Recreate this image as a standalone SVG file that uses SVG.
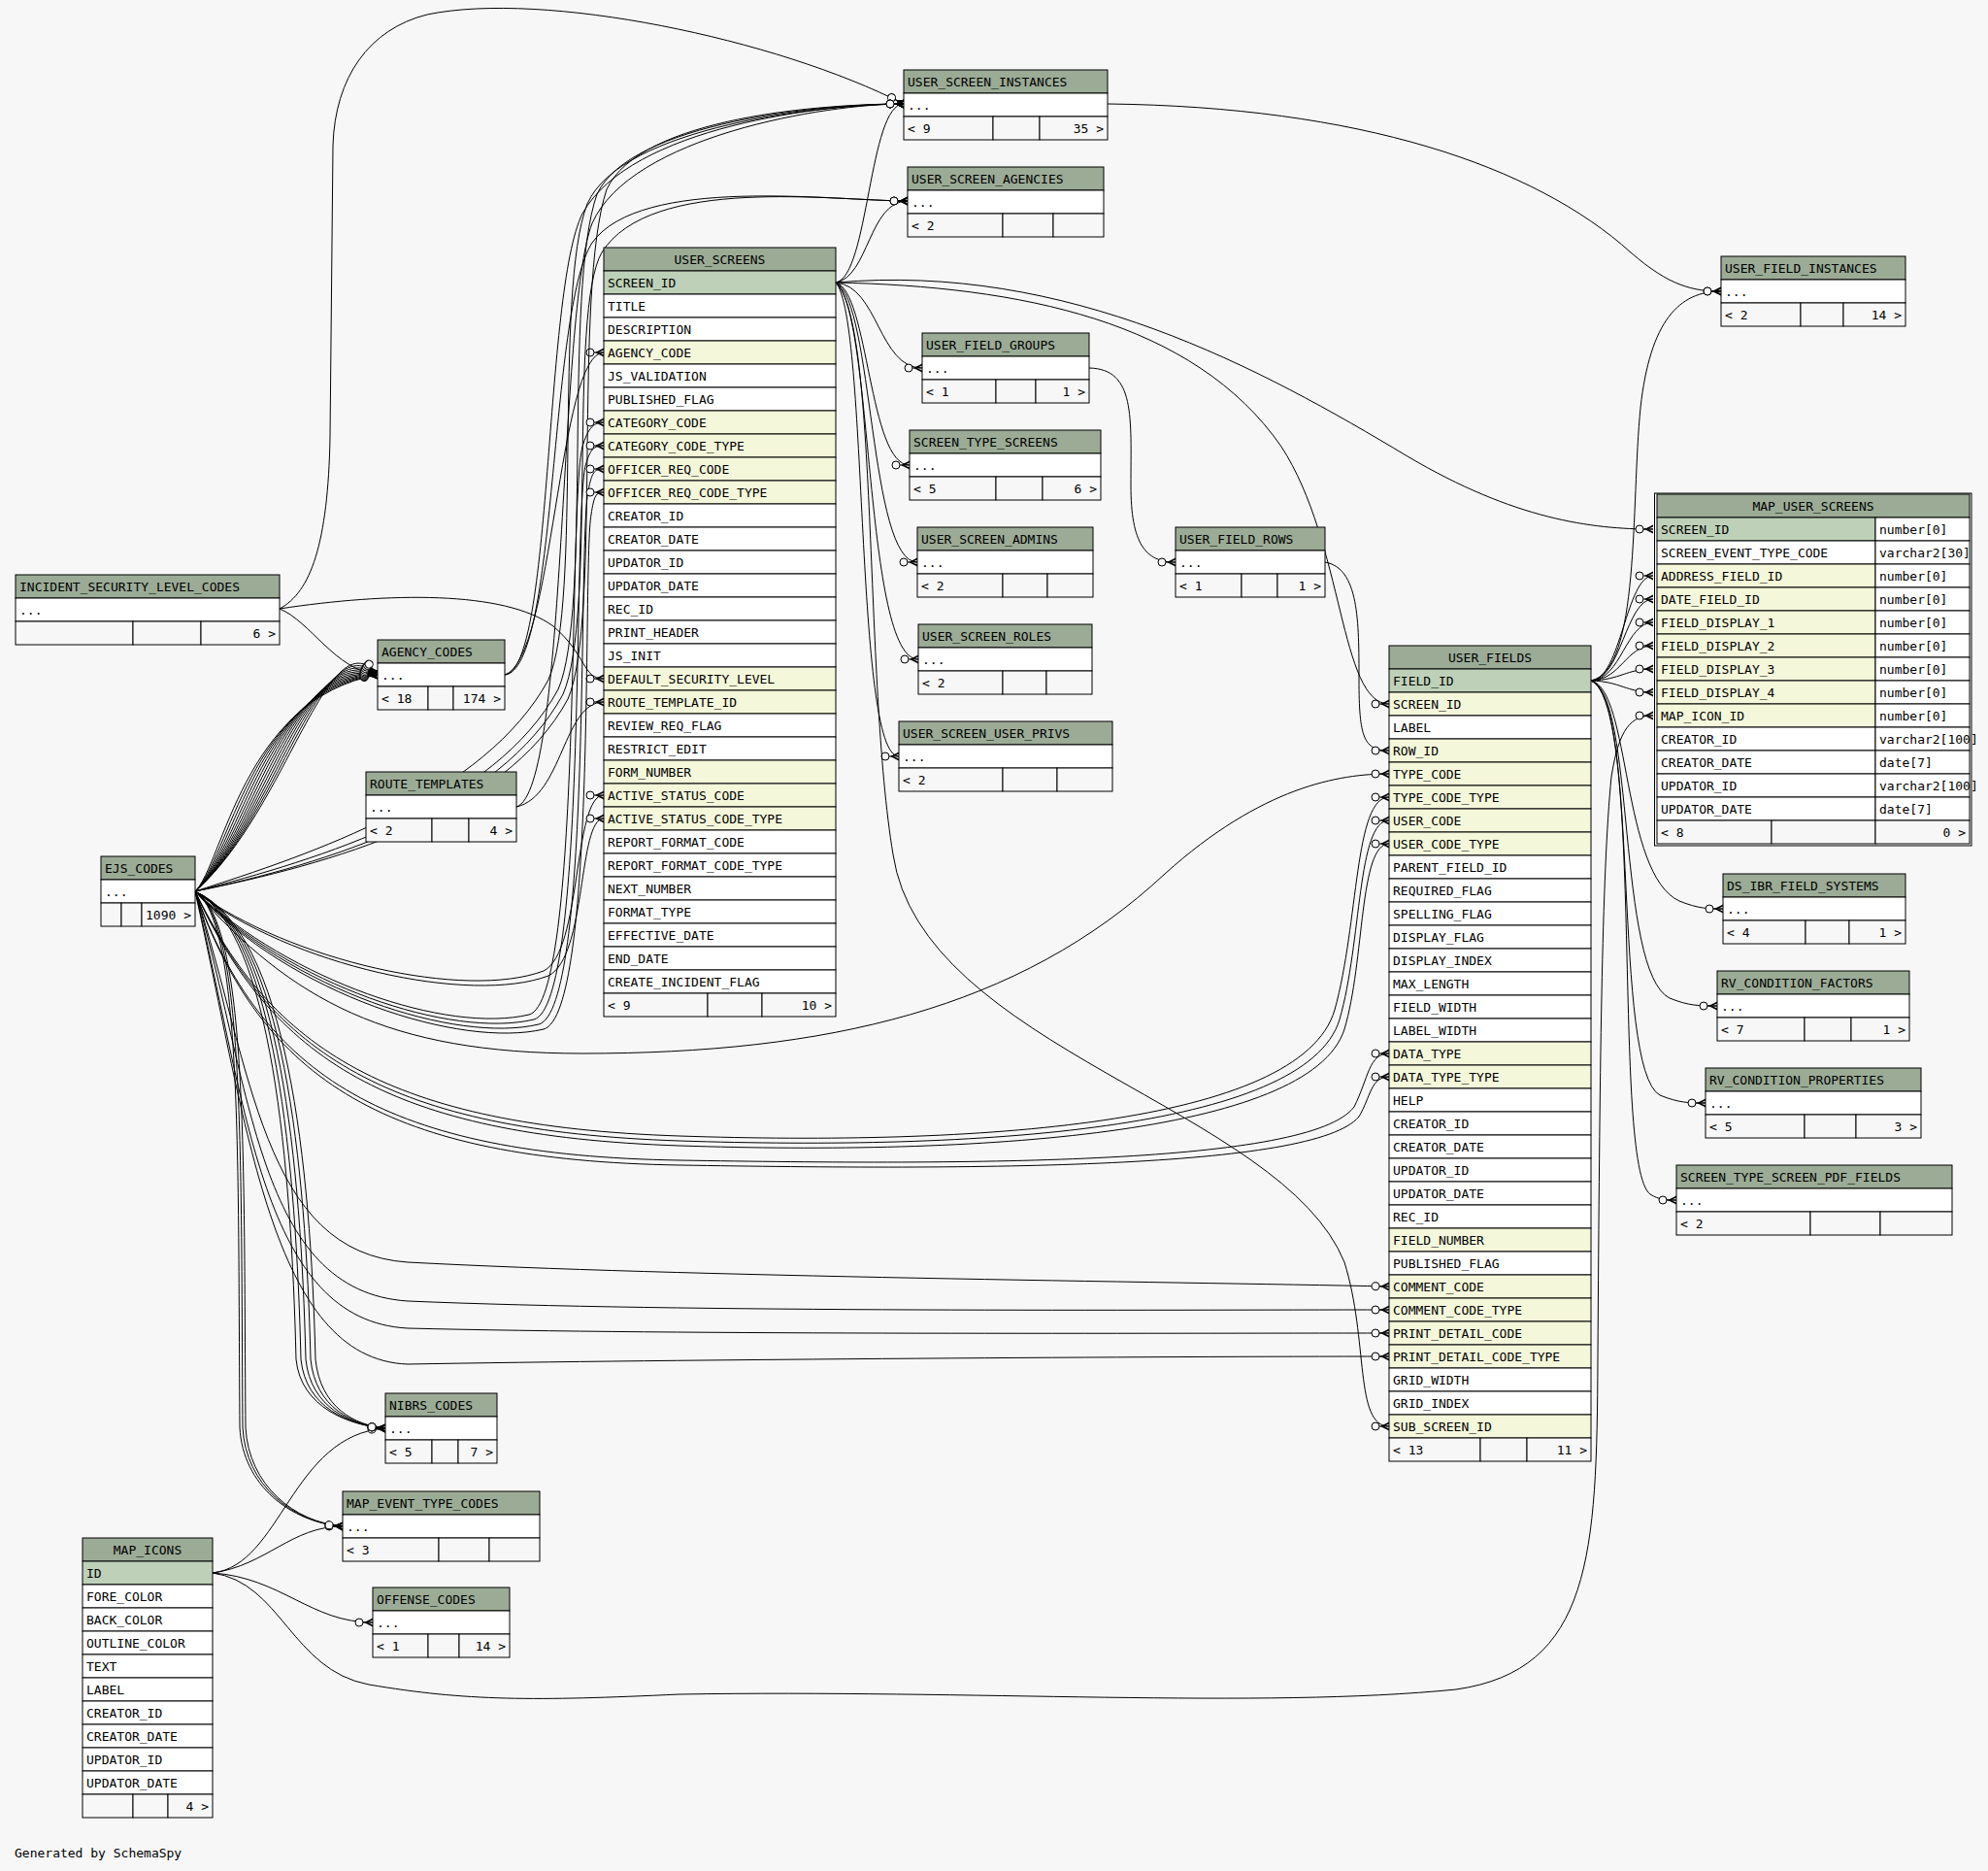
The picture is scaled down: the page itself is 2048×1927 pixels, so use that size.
<svg xmlns="http://www.w3.org/2000/svg" width="2048" height="1927" viewBox="0 0 2048 1927">
<style>
.n rect{stroke:#000;stroke-width:1}
.hd{fill:#9bab96}.pk{fill:#bed1b8}.fk{fill:#f4f7da}.bd{fill:#ffffff}.ft{fill:#f7f7f7}
text{font-family:"DejaVu Sans Mono","Liberation Mono",monospace;font-size:13px;fill:#000}
.c{text-anchor:middle}.r{text-anchor:end}
.e path{fill:none;stroke:#000;stroke-width:1;marker-end:url(#crow)}
</style>
<defs>
<marker id="crow" markerUnits="userSpaceOnUse" markerWidth="20" markerHeight="12" refX="18" refY="6" orient="auto" viewBox="0 0 20 12" overflow="visible">
<circle cx="4" cy="6" r="4" fill="#f7f7f7" stroke="#000" stroke-width="1"/>
<path d="M8,6 L18,6" stroke="#000" stroke-width="1"/>
<polygon points="18,1.5 9,6 18,10.5 18,8.5 12.5,6 18,3.5" fill="#000"/>
</marker>
</defs>
<rect x="0" y="0" width="2048" height="1927" fill="#f7f7f7"/>
<g id="connectors" class="e">
<path d="M861,291 C895,285 895,107 931,107"/>
<path d="M861,291 C895,285 895,207 935,207"/>
<path d="M861,291 C905,295 905,379 950,379"/>
<path d="M861,291 C895,300 895,479 937,479"/>
<path d="M861,291 C900,310 895,579 945,579"/>
<path d="M861,291 C900,320 890,679 946,679"/>
<path d="M861,291 C895,330 880,779 926,779"/>
<path d="M861,291 C1100,270 1300,380 1450,470 C1560,535 1640,545 1703,545"/>
<path d="M861,291 C1050,295 1230,330 1320,460 C1385,560 1380,725 1431,725"/>
<path d="M861,291 C905,330 890,700 920,880 C950,1080 1320,1140 1385,1300 C1410,1380 1395,1469 1431,1469"/>
<path d="M1141,107 C1400,110 1580,170 1680,260 C1720,295 1745,300 1773,300"/>
<path d="M1122,379 C1170,380 1165,430 1165,500 C1165,560 1180,579 1211,579"/>
<path d="M1365,579 C1400,585 1400,640 1400,700 C1400,760 1405,773 1431,773"/>
<path d="M1639,701 C1690,690 1680,520 1690,420 C1700,330 1730,300 1773,300"/>
<path d="M1639,701 C1670,700 1675,593 1703,593"/>
<path d="M1639,701 C1670,700 1675,617 1703,617"/>
<path d="M1639,701 C1670,700 1675,641 1703,641"/>
<path d="M1639,701 C1670,700 1675,665 1703,665"/>
<path d="M1639,701 C1670,700 1675,689 1703,689"/>
<path d="M1639,701 C1670,702 1675,713 1703,713"/>
<path d="M1639,701 C1680,710 1670,900 1730,928 C1750,936 1760,936 1775,936"/>
<path d="M1639,701 C1685,715 1665,1000 1720,1028 C1740,1036 1750,1036 1769,1036"/>
<path d="M1639,701 C1690,720 1660,1100 1710,1128 C1730,1136 1740,1136 1757,1136"/>
<path d="M1639,701 C1695,725 1660,1200 1700,1230 C1710,1236 1715,1236 1727,1236"/>
<path d="M219,1620 C290,1612 300,1478 397,1471"/>
<path d="M219,1620 C275,1612 300,1572 353,1572"/>
<path d="M219,1620 C290,1625 320,1671 384,1671"/>
<path d="M219,1620 C290,1630 300,1720 380,1735 C480,1752 550,1752 700,1745 C1000,1740 1300,1760 1500,1740 C1640,1720 1645,1600 1646,1400 C1648,1100 1650,900 1660,800 C1668,750 1680,737 1703,737"/>
<path d="M288,627 C320,610 338,560 340,450 L343,150 C345,80 380,30 440,15 C560,-10 800,40 931,107"/>
<path d="M288,627 C400,610 520,608 570,645 C605,675 600,699 622,699"/>
<path d="M288,627 C320,640 345,690 389,695"/>
<path d="M520,695 C570,680 575,363 622,363"/>
<path d="M520,695 C570,690 560,300 600,220 C650,130 850,107 931,107"/>
<path d="M520,695 C575,690 565,320 610,250 C660,180 860,207 935,207"/>
<path d="M532,831 C580,820 580,723 622,723"/>
<path d="M532,831 C585,815 575,320 610,230 C650,140 850,107 931,107"/>
<path d="M201,918 C230,890 250,720 389,695"/>
<path d="M201,918 C236,885 258,712 389,695"/>
<path d="M201,918 C242,880 266,704 389,695"/>
<path d="M201,918 C248,875 274,696 389,695"/>
<path d="M201,918 C254,870 282,688 389,695"/>
<path d="M201,918 C260,865 290,680 389,695"/>
<path d="M201,918 C266,860 298,672 389,695"/>
<path d="M201,918 C272,855 306,664 389,695"/>
<path d="M201,918 C278,850 314,656 389,695"/>
<path d="M201,918 C284,845 322,648 389,695"/>
<path d="M201,918 C290,840 330,640 389,695"/>
<path d="M201,918 C296,835 338,632 389,695"/>
<path d="M201,918 C320,880 500,820 565,700 C600,620 570,300 605,210 C640,130 850,107 931,107"/>
<path d="M201,918 C330,885 510,830 575,710 C610,630 580,300 615,200 C650,125 850,107 931,107"/>
<path d="M201,918 C340,890 520,840 585,720 C620,640 590,300 625,195 C660,120 850,107 931,107"/>
<path d="M201,918 C335,890 515,835 580,715 C615,635 585,320 620,260 C670,180 860,207 935,207"/>
<path d="M201,918 C300,1010 460,1065 545,1045 C600,1030 585,520 600,460 C606,440 612,435 622,435"/>
<path d="M201,918 C300,1015 465,1070 550,1050 C605,1035 590,540 603,480 C608,462 612,459 622,459"/>
<path d="M201,918 C300,1020 470,1075 555,1055 C610,1040 595,560 606,505 C610,486 612,483 622,483"/>
<path d="M201,918 C300,1025 475,1080 560,1060 C615,1045 600,580 609,530 C612,510 614,507 622,507"/>
<path d="M201,918 C300,990 480,1030 560,1000 C600,980 590,819 622,819"/>
<path d="M201,918 C300,995 485,1035 565,1005 C605,985 595,843 622,843"/>
<path d="M201,918 C300,1030 400,1085 600,1085 C850,1085 1050,1040 1200,900 C1300,810 1380,797 1431,797"/>
<path d="M201,918 C280,1080 400,1160 700,1170 C1000,1180 1340,1160 1375,1040 C1400,950 1395,821 1431,821"/>
<path d="M201,918 C280,1085 400,1165 700,1175 C1000,1185 1345,1165 1380,1050 C1403,970 1398,845 1431,845"/>
<path d="M201,918 C280,1090 400,1170 700,1180 C1000,1190 1350,1170 1385,1060 C1406,990 1400,869 1431,869"/>
<path d="M201,918 C270,1110 400,1190 700,1195 C1000,1200 1350,1200 1395,1140 C1410,1110 1410,1085 1431,1085"/>
<path d="M201,918 C270,1115 400,1195 700,1200 C1000,1205 1355,1205 1400,1150 C1412,1130 1412,1109 1431,1109"/>
<path d="M201,918 C260,1100 270,1290 420,1300 C700,1315 1200,1320 1431,1325"/>
<path d="M201,918 C260,1120 265,1330 420,1340 C700,1352 1200,1349 1431,1349"/>
<path d="M201,918 C255,1140 270,1360 420,1368 C700,1375 1200,1373 1431,1373"/>
<path d="M201,918 C255,1160 280,1400 420,1405 C700,1400 1200,1397 1431,1397"/>
<path d="M201,918 C280,960 300,1200 305,1400 C310,1450 360,1468 397,1471"/>
<path d="M201,918 C284,960 305,1200 310,1400 C315,1450 360,1468 397,1471"/>
<path d="M201,918 C288,960 310,1200 315,1400 C320,1450 362,1468 397,1471"/>
<path d="M201,918 C292,960 315,1200 320,1400 C325,1450 364,1468 397,1471"/>
<path d="M201,918 C296,960 320,1200 325,1400 C330,1450 366,1468 397,1471"/>
<path d="M201,918 C250,950 245,1200 247,1470 C250,1530 300,1568 353,1572"/>
<path d="M201,918 C253,950 248,1200 250,1470 C253,1530 302,1568 353,1572"/>
<path d="M201,918 C256,950 251,1200 253,1470 C256,1530 304,1568 353,1572"/>
</g>
<g id="USER_SCREEN_INSTANCES" class="n">
<rect class="hd" x="931" y="72" width="210" height="24"/><text x="935" y="89">USER_SCREEN_INSTANCES</text>
<rect class="bd" x="931" y="96" width="210" height="24"/><text x="935" y="113">...</text>
<rect class="ft" x="931" y="120" width="92" height="24"/><rect class="ft" x="1023" y="120" width="48" height="24"/><rect class="ft" x="1071" y="120" width="70" height="24"/>
<text x="935" y="137">&lt; 9</text><text class="r" x="1137" y="137">35 &gt;</text>
</g>
<g id="USER_SCREEN_AGENCIES" class="n">
<rect class="hd" x="935" y="172" width="202" height="24"/><text x="939" y="189">USER_SCREEN_AGENCIES</text>
<rect class="bd" x="935" y="196" width="202" height="24"/><text x="939" y="213">...</text>
<rect class="ft" x="935" y="220" width="98" height="24"/><rect class="ft" x="1033" y="220" width="52" height="24"/><rect class="ft" x="1085" y="220" width="52" height="24"/>
<text x="939" y="237">&lt; 2</text>
</g>
<g id="USER_FIELD_GROUPS" class="n">
<rect class="hd" x="950" y="343" width="172" height="24"/><text x="954" y="360">USER_FIELD_GROUPS</text>
<rect class="bd" x="950" y="367" width="172" height="24"/><text x="954" y="384">...</text>
<rect class="ft" x="950" y="391" width="76" height="24"/><rect class="ft" x="1026" y="391" width="41" height="24"/><rect class="ft" x="1067" y="391" width="55" height="24"/>
<text x="954" y="408">&lt; 1</text><text class="r" x="1118" y="408">1 &gt;</text>
</g>
<g id="SCREEN_TYPE_SCREENS" class="n">
<rect class="hd" x="937" y="443" width="197" height="24"/><text x="941" y="460">SCREEN_TYPE_SCREENS</text>
<rect class="bd" x="937" y="467" width="197" height="24"/><text x="941" y="484">...</text>
<rect class="ft" x="937" y="491" width="89" height="24"/><rect class="ft" x="1026" y="491" width="48" height="24"/><rect class="ft" x="1074" y="491" width="60" height="24"/>
<text x="941" y="508">&lt; 5</text><text class="r" x="1130" y="508">6 &gt;</text>
</g>
<g id="USER_SCREEN_ADMINS" class="n">
<rect class="hd" x="945" y="543" width="181" height="24"/><text x="949" y="560">USER_SCREEN_ADMINS</text>
<rect class="bd" x="945" y="567" width="181" height="24"/><text x="949" y="584">...</text>
<rect class="ft" x="945" y="591" width="88" height="24"/><rect class="ft" x="1033" y="591" width="46" height="24"/><rect class="ft" x="1079" y="591" width="47" height="24"/>
<text x="949" y="608">&lt; 2</text>
</g>
<g id="USER_SCREEN_ROLES" class="n">
<rect class="hd" x="946" y="643" width="179" height="24"/><text x="950" y="660">USER_SCREEN_ROLES</text>
<rect class="bd" x="946" y="667" width="179" height="24"/><text x="950" y="684">...</text>
<rect class="ft" x="946" y="691" width="87" height="24"/><rect class="ft" x="1033" y="691" width="45" height="24"/><rect class="ft" x="1078" y="691" width="47" height="24"/>
<text x="950" y="708">&lt; 2</text>
</g>
<g id="USER_SCREEN_USER_PRIVS" class="n">
<rect class="hd" x="926" y="743" width="220" height="24"/><text x="930" y="760">USER_SCREEN_USER_PRIVS</text>
<rect class="bd" x="926" y="767" width="220" height="24"/><text x="930" y="784">...</text>
<rect class="ft" x="926" y="791" width="107" height="24"/><rect class="ft" x="1033" y="791" width="56" height="24"/><rect class="ft" x="1089" y="791" width="57" height="24"/>
<text x="930" y="808">&lt; 2</text>
</g>
<g id="USER_FIELD_ROWS" class="n">
<rect class="hd" x="1211" y="543" width="154" height="24"/><text x="1215" y="560">USER_FIELD_ROWS</text>
<rect class="bd" x="1211" y="567" width="154" height="24"/><text x="1215" y="584">...</text>
<rect class="ft" x="1211" y="591" width="68" height="24"/><rect class="ft" x="1279" y="591" width="37" height="24"/><rect class="ft" x="1316" y="591" width="49" height="24"/>
<text x="1215" y="608">&lt; 1</text><text class="r" x="1361" y="608">1 &gt;</text>
</g>
<g id="USER_FIELD_INSTANCES" class="n">
<rect class="hd" x="1773" y="264" width="190" height="24"/><text x="1777" y="281">USER_FIELD_INSTANCES</text>
<rect class="bd" x="1773" y="288" width="190" height="24"/><text x="1777" y="305">...</text>
<rect class="ft" x="1773" y="312" width="82" height="24"/><rect class="ft" x="1855" y="312" width="44" height="24"/><rect class="ft" x="1899" y="312" width="64" height="24"/>
<text x="1777" y="329">&lt; 2</text><text class="r" x="1959" y="329">14 &gt;</text>
</g>
<g id="DS_IBR_FIELD_SYSTEMS" class="n">
<rect class="hd" x="1775" y="900" width="188" height="24"/><text x="1779" y="917">DS_IBR_FIELD_SYSTEMS</text>
<rect class="bd" x="1775" y="924" width="188" height="24"/><text x="1779" y="941">...</text>
<rect class="ft" x="1775" y="948" width="85" height="24"/><rect class="ft" x="1860" y="948" width="45" height="24"/><rect class="ft" x="1905" y="948" width="58" height="24"/>
<text x="1779" y="965">&lt; 4</text><text class="r" x="1959" y="965">1 &gt;</text>
</g>
<g id="RV_CONDITION_FACTORS" class="n">
<rect class="hd" x="1769" y="1000" width="198" height="24"/><text x="1773" y="1017">RV_CONDITION_FACTORS</text>
<rect class="bd" x="1769" y="1024" width="198" height="24"/><text x="1773" y="1041">...</text>
<rect class="ft" x="1769" y="1048" width="90" height="24"/><rect class="ft" x="1859" y="1048" width="48" height="24"/><rect class="ft" x="1907" y="1048" width="60" height="24"/>
<text x="1773" y="1065">&lt; 7</text><text class="r" x="1963" y="1065">1 &gt;</text>
</g>
<g id="RV_CONDITION_PROPERTIES" class="n">
<rect class="hd" x="1757" y="1100" width="222" height="24"/><text x="1761" y="1117">RV_CONDITION_PROPERTIES</text>
<rect class="bd" x="1757" y="1124" width="222" height="24"/><text x="1761" y="1141">...</text>
<rect class="ft" x="1757" y="1148" width="102" height="24"/><rect class="ft" x="1859" y="1148" width="53" height="24"/><rect class="ft" x="1912" y="1148" width="67" height="24"/>
<text x="1761" y="1165">&lt; 5</text><text class="r" x="1975" y="1165">3 &gt;</text>
</g>
<g id="SCREEN_TYPE_SCREEN_PDF_FIELDS" class="n">
<rect class="hd" x="1727" y="1200" width="284" height="24"/><text x="1731" y="1217">SCREEN_TYPE_SCREEN_PDF_FIELDS</text>
<rect class="bd" x="1727" y="1224" width="284" height="24"/><text x="1731" y="1241">...</text>
<rect class="ft" x="1727" y="1248" width="138" height="24"/><rect class="ft" x="1865" y="1248" width="72" height="24"/><rect class="ft" x="1937" y="1248" width="74" height="24"/>
<text x="1731" y="1265">&lt; 2</text>
</g>
<g id="INCIDENT_SECURITY_LEVEL_CODES" class="n">
<rect class="hd" x="16" y="592" width="272" height="24"/><text x="20" y="609">INCIDENT_SECURITY_LEVEL_CODES</text>
<rect class="bd" x="16" y="616" width="272" height="24"/><text x="20" y="633">...</text>
<rect class="ft" x="16" y="640" width="121" height="24"/><rect class="ft" x="137" y="640" width="70" height="24"/><rect class="ft" x="207" y="640" width="81" height="24"/>
<text class="r" x="284" y="657">6 &gt;</text>
</g>
<g id="AGENCY_CODES" class="n">
<rect class="hd" x="389" y="659" width="131" height="24"/><text x="393" y="676">AGENCY_CODES</text>
<rect class="bd" x="389" y="683" width="131" height="24"/><text x="393" y="700">...</text>
<rect class="ft" x="389" y="707" width="52" height="24"/><rect class="ft" x="441" y="707" width="26" height="24"/><rect class="ft" x="467" y="707" width="53" height="24"/>
<text x="393" y="724">&lt; 18</text><text class="r" x="516" y="724">174 &gt;</text>
</g>
<g id="ROUTE_TEMPLATES" class="n">
<rect class="hd" x="377" y="795" width="155" height="24"/><text x="381" y="812">ROUTE_TEMPLATES</text>
<rect class="bd" x="377" y="819" width="155" height="24"/><text x="381" y="836">...</text>
<rect class="ft" x="377" y="843" width="68" height="24"/><rect class="ft" x="445" y="843" width="38" height="24"/><rect class="ft" x="483" y="843" width="49" height="24"/>
<text x="381" y="860">&lt; 2</text><text class="r" x="528" y="860">4 &gt;</text>
</g>
<g id="EJS_CODES" class="n">
<rect class="hd" x="104" y="882" width="97" height="24"/><text x="108" y="899">EJS_CODES</text>
<rect class="bd" x="104" y="906" width="97" height="24"/><text x="108" y="923">...</text>
<rect class="ft" x="104" y="930" width="21" height="24"/><rect class="ft" x="125" y="930" width="21" height="24"/><rect class="ft" x="146" y="930" width="55" height="24"/>
<text class="r" x="197" y="947">1090 &gt;</text>
</g>
<g id="NIBRS_CODES" class="n">
<rect class="hd" x="397" y="1435" width="115" height="24"/><text x="401" y="1452">NIBRS_CODES</text>
<rect class="bd" x="397" y="1459" width="115" height="24"/><text x="401" y="1476">...</text>
<rect class="ft" x="397" y="1483" width="48" height="24"/><rect class="ft" x="445" y="1483" width="27" height="24"/><rect class="ft" x="472" y="1483" width="40" height="24"/>
<text x="401" y="1500">&lt; 5</text><text class="r" x="508" y="1500">7 &gt;</text>
</g>
<g id="MAP_EVENT_TYPE_CODES" class="n">
<rect class="hd" x="353" y="1536" width="203" height="24"/><text x="357" y="1553">MAP_EVENT_TYPE_CODES</text>
<rect class="bd" x="353" y="1560" width="203" height="24"/><text x="357" y="1577">...</text>
<rect class="ft" x="353" y="1584" width="99" height="24"/><rect class="ft" x="452" y="1584" width="52" height="24"/><rect class="ft" x="504" y="1584" width="52" height="24"/>
<text x="357" y="1601">&lt; 3</text>
</g>
<g id="OFFENSE_CODES" class="n">
<rect class="hd" x="384" y="1635" width="141" height="24"/><text x="388" y="1652">OFFENSE_CODES</text>
<rect class="bd" x="384" y="1659" width="141" height="24"/><text x="388" y="1676">...</text>
<rect class="ft" x="384" y="1683" width="57" height="24"/><rect class="ft" x="441" y="1683" width="32" height="24"/><rect class="ft" x="473" y="1683" width="52" height="24"/>
<text x="388" y="1700">&lt; 1</text><text class="r" x="521" y="1700">14 &gt;</text>
</g>
<g id="MAP_ICONS" class="n">
<rect class="hd" x="85" y="1584" width="134" height="24"/><text class="c" x="152" y="1601">MAP_ICONS</text>
<rect class="pk" x="85" y="1608" width="134" height="24"/><text x="89" y="1625">ID</text>
<rect class="bd" x="85" y="1632" width="134" height="24"/><text x="89" y="1649">FORE_COLOR</text>
<rect class="bd" x="85" y="1656" width="134" height="24"/><text x="89" y="1673">BACK_COLOR</text>
<rect class="bd" x="85" y="1680" width="134" height="24"/><text x="89" y="1697">OUTLINE_COLOR</text>
<rect class="bd" x="85" y="1704" width="134" height="24"/><text x="89" y="1721">TEXT</text>
<rect class="bd" x="85" y="1728" width="134" height="24"/><text x="89" y="1745">LABEL</text>
<rect class="bd" x="85" y="1752" width="134" height="24"/><text x="89" y="1769">CREATOR_ID</text>
<rect class="bd" x="85" y="1776" width="134" height="24"/><text x="89" y="1793">CREATOR_DATE</text>
<rect class="bd" x="85" y="1800" width="134" height="24"/><text x="89" y="1817">UPDATOR_ID</text>
<rect class="bd" x="85" y="1824" width="134" height="24"/><text x="89" y="1841">UPDATOR_DATE</text>
<rect class="ft" x="85" y="1848" width="52" height="24"/><rect class="ft" x="137" y="1848" width="36" height="24"/><rect class="ft" x="173" y="1848" width="46" height="24"/>
<text class="r" x="215" y="1865">4 &gt;</text>
</g>
<g id="USER_SCREENS" class="n">
<rect class="hd" x="622" y="255" width="239" height="24"/><text class="c" x="741.5" y="272">USER_SCREENS</text>
<rect class="pk" x="622" y="279" width="239" height="24"/><text x="626" y="296">SCREEN_ID</text>
<rect class="bd" x="622" y="303" width="239" height="24"/><text x="626" y="320">TITLE</text>
<rect class="bd" x="622" y="327" width="239" height="24"/><text x="626" y="344">DESCRIPTION</text>
<rect class="fk" x="622" y="351" width="239" height="24"/><text x="626" y="368">AGENCY_CODE</text>
<rect class="bd" x="622" y="375" width="239" height="24"/><text x="626" y="392">JS_VALIDATION</text>
<rect class="bd" x="622" y="399" width="239" height="24"/><text x="626" y="416">PUBLISHED_FLAG</text>
<rect class="fk" x="622" y="423" width="239" height="24"/><text x="626" y="440">CATEGORY_CODE</text>
<rect class="fk" x="622" y="447" width="239" height="24"/><text x="626" y="464">CATEGORY_CODE_TYPE</text>
<rect class="fk" x="622" y="471" width="239" height="24"/><text x="626" y="488">OFFICER_REQ_CODE</text>
<rect class="fk" x="622" y="495" width="239" height="24"/><text x="626" y="512">OFFICER_REQ_CODE_TYPE</text>
<rect class="bd" x="622" y="519" width="239" height="24"/><text x="626" y="536">CREATOR_ID</text>
<rect class="bd" x="622" y="543" width="239" height="24"/><text x="626" y="560">CREATOR_DATE</text>
<rect class="bd" x="622" y="567" width="239" height="24"/><text x="626" y="584">UPDATOR_ID</text>
<rect class="bd" x="622" y="591" width="239" height="24"/><text x="626" y="608">UPDATOR_DATE</text>
<rect class="bd" x="622" y="615" width="239" height="24"/><text x="626" y="632">REC_ID</text>
<rect class="bd" x="622" y="639" width="239" height="24"/><text x="626" y="656">PRINT_HEADER</text>
<rect class="bd" x="622" y="663" width="239" height="24"/><text x="626" y="680">JS_INIT</text>
<rect class="fk" x="622" y="687" width="239" height="24"/><text x="626" y="704">DEFAULT_SECURITY_LEVEL</text>
<rect class="fk" x="622" y="711" width="239" height="24"/><text x="626" y="728">ROUTE_TEMPLATE_ID</text>
<rect class="bd" x="622" y="735" width="239" height="24"/><text x="626" y="752">REVIEW_REQ_FLAG</text>
<rect class="bd" x="622" y="759" width="239" height="24"/><text x="626" y="776">RESTRICT_EDIT</text>
<rect class="fk" x="622" y="783" width="239" height="24"/><text x="626" y="800">FORM_NUMBER</text>
<rect class="fk" x="622" y="807" width="239" height="24"/><text x="626" y="824">ACTIVE_STATUS_CODE</text>
<rect class="fk" x="622" y="831" width="239" height="24"/><text x="626" y="848">ACTIVE_STATUS_CODE_TYPE</text>
<rect class="bd" x="622" y="855" width="239" height="24"/><text x="626" y="872">REPORT_FORMAT_CODE</text>
<rect class="bd" x="622" y="879" width="239" height="24"/><text x="626" y="896">REPORT_FORMAT_CODE_TYPE</text>
<rect class="bd" x="622" y="903" width="239" height="24"/><text x="626" y="920">NEXT_NUMBER</text>
<rect class="bd" x="622" y="927" width="239" height="24"/><text x="626" y="944">FORMAT_TYPE</text>
<rect class="bd" x="622" y="951" width="239" height="24"/><text x="626" y="968">EFFECTIVE_DATE</text>
<rect class="bd" x="622" y="975" width="239" height="24"/><text x="626" y="992">END_DATE</text>
<rect class="bd" x="622" y="999" width="239" height="24"/><text x="626" y="1016">CREATE_INCIDENT_FLAG</text>
<rect class="ft" x="622" y="1023" width="107" height="24"/><rect class="ft" x="729" y="1023" width="56" height="24"/><rect class="ft" x="785" y="1023" width="76" height="24"/>
<text x="626" y="1040">&lt; 9</text><text class="r" x="857" y="1040">10 &gt;</text>
</g>
<g id="USER_FIELDS" class="n">
<rect class="hd" x="1431" y="665" width="208" height="24"/><text class="c" x="1535" y="682">USER_FIELDS</text>
<rect class="pk" x="1431" y="689" width="208" height="24"/><text x="1435" y="706">FIELD_ID</text>
<rect class="fk" x="1431" y="713" width="208" height="24"/><text x="1435" y="730">SCREEN_ID</text>
<rect class="bd" x="1431" y="737" width="208" height="24"/><text x="1435" y="754">LABEL</text>
<rect class="fk" x="1431" y="761" width="208" height="24"/><text x="1435" y="778">ROW_ID</text>
<rect class="fk" x="1431" y="785" width="208" height="24"/><text x="1435" y="802">TYPE_CODE</text>
<rect class="fk" x="1431" y="809" width="208" height="24"/><text x="1435" y="826">TYPE_CODE_TYPE</text>
<rect class="fk" x="1431" y="833" width="208" height="24"/><text x="1435" y="850">USER_CODE</text>
<rect class="fk" x="1431" y="857" width="208" height="24"/><text x="1435" y="874">USER_CODE_TYPE</text>
<rect class="bd" x="1431" y="881" width="208" height="24"/><text x="1435" y="898">PARENT_FIELD_ID</text>
<rect class="bd" x="1431" y="905" width="208" height="24"/><text x="1435" y="922">REQUIRED_FLAG</text>
<rect class="bd" x="1431" y="929" width="208" height="24"/><text x="1435" y="946">SPELLING_FLAG</text>
<rect class="bd" x="1431" y="953" width="208" height="24"/><text x="1435" y="970">DISPLAY_FLAG</text>
<rect class="bd" x="1431" y="977" width="208" height="24"/><text x="1435" y="994">DISPLAY_INDEX</text>
<rect class="bd" x="1431" y="1001" width="208" height="24"/><text x="1435" y="1018">MAX_LENGTH</text>
<rect class="bd" x="1431" y="1025" width="208" height="24"/><text x="1435" y="1042">FIELD_WIDTH</text>
<rect class="bd" x="1431" y="1049" width="208" height="24"/><text x="1435" y="1066">LABEL_WIDTH</text>
<rect class="fk" x="1431" y="1073" width="208" height="24"/><text x="1435" y="1090">DATA_TYPE</text>
<rect class="fk" x="1431" y="1097" width="208" height="24"/><text x="1435" y="1114">DATA_TYPE_TYPE</text>
<rect class="bd" x="1431" y="1121" width="208" height="24"/><text x="1435" y="1138">HELP</text>
<rect class="bd" x="1431" y="1145" width="208" height="24"/><text x="1435" y="1162">CREATOR_ID</text>
<rect class="bd" x="1431" y="1169" width="208" height="24"/><text x="1435" y="1186">CREATOR_DATE</text>
<rect class="bd" x="1431" y="1193" width="208" height="24"/><text x="1435" y="1210">UPDATOR_ID</text>
<rect class="bd" x="1431" y="1217" width="208" height="24"/><text x="1435" y="1234">UPDATOR_DATE</text>
<rect class="bd" x="1431" y="1241" width="208" height="24"/><text x="1435" y="1258">REC_ID</text>
<rect class="fk" x="1431" y="1265" width="208" height="24"/><text x="1435" y="1282">FIELD_NUMBER</text>
<rect class="bd" x="1431" y="1289" width="208" height="24"/><text x="1435" y="1306">PUBLISHED_FLAG</text>
<rect class="fk" x="1431" y="1313" width="208" height="24"/><text x="1435" y="1330">COMMENT_CODE</text>
<rect class="fk" x="1431" y="1337" width="208" height="24"/><text x="1435" y="1354">COMMENT_CODE_TYPE</text>
<rect class="fk" x="1431" y="1361" width="208" height="24"/><text x="1435" y="1378">PRINT_DETAIL_CODE</text>
<rect class="fk" x="1431" y="1385" width="208" height="24"/><text x="1435" y="1402">PRINT_DETAIL_CODE_TYPE</text>
<rect class="bd" x="1431" y="1409" width="208" height="24"/><text x="1435" y="1426">GRID_WIDTH</text>
<rect class="bd" x="1431" y="1433" width="208" height="24"/><text x="1435" y="1450">GRID_INDEX</text>
<rect class="fk" x="1431" y="1457" width="208" height="24"/><text x="1435" y="1474">SUB_SCREEN_ID</text>
<rect class="ft" x="1431" y="1481" width="94" height="24"/><rect class="ft" x="1525" y="1481" width="48" height="24"/><rect class="ft" x="1573" y="1481" width="66" height="24"/>
<text x="1435" y="1498">&lt; 13</text><text class="r" x="1635" y="1498">11 &gt;</text>
</g>
<g id="MAP_USER_SCREENS" class="n">
<rect class="hd" x="1707" y="509" width="322" height="24"/><text class="c" x="1868" y="526">MAP_USER_SCREENS</text>
<rect class="pk" x="1707" y="533" width="225" height="24"/><rect class="bd" x="1932" y="533" width="97" height="24"/><text x="1711" y="550">SCREEN_ID</text><text x="1936" y="550">number[0]</text>
<rect class="bd" x="1707" y="557" width="225" height="24"/><rect class="bd" x="1932" y="557" width="97" height="24"/><text x="1711" y="574">SCREEN_EVENT_TYPE_CODE</text><text x="1936" y="574">varchar2[30]</text>
<rect class="fk" x="1707" y="581" width="225" height="24"/><rect class="bd" x="1932" y="581" width="97" height="24"/><text x="1711" y="598">ADDRESS_FIELD_ID</text><text x="1936" y="598">number[0]</text>
<rect class="fk" x="1707" y="605" width="225" height="24"/><rect class="bd" x="1932" y="605" width="97" height="24"/><text x="1711" y="622">DATE_FIELD_ID</text><text x="1936" y="622">number[0]</text>
<rect class="fk" x="1707" y="629" width="225" height="24"/><rect class="bd" x="1932" y="629" width="97" height="24"/><text x="1711" y="646">FIELD_DISPLAY_1</text><text x="1936" y="646">number[0]</text>
<rect class="fk" x="1707" y="653" width="225" height="24"/><rect class="bd" x="1932" y="653" width="97" height="24"/><text x="1711" y="670">FIELD_DISPLAY_2</text><text x="1936" y="670">number[0]</text>
<rect class="fk" x="1707" y="677" width="225" height="24"/><rect class="bd" x="1932" y="677" width="97" height="24"/><text x="1711" y="694">FIELD_DISPLAY_3</text><text x="1936" y="694">number[0]</text>
<rect class="fk" x="1707" y="701" width="225" height="24"/><rect class="bd" x="1932" y="701" width="97" height="24"/><text x="1711" y="718">FIELD_DISPLAY_4</text><text x="1936" y="718">number[0]</text>
<rect class="fk" x="1707" y="725" width="225" height="24"/><rect class="bd" x="1932" y="725" width="97" height="24"/><text x="1711" y="742">MAP_ICON_ID</text><text x="1936" y="742">number[0]</text>
<rect class="bd" x="1707" y="749" width="225" height="24"/><rect class="bd" x="1932" y="749" width="97" height="24"/><text x="1711" y="766">CREATOR_ID</text><text x="1936" y="766">varchar2[100]</text>
<rect class="bd" x="1707" y="773" width="225" height="24"/><rect class="bd" x="1932" y="773" width="97" height="24"/><text x="1711" y="790">CREATOR_DATE</text><text x="1936" y="790">date[7]</text>
<rect class="bd" x="1707" y="797" width="225" height="24"/><rect class="bd" x="1932" y="797" width="97" height="24"/><text x="1711" y="814">UPDATOR_ID</text><text x="1936" y="814">varchar2[100]</text>
<rect class="bd" x="1707" y="821" width="225" height="24"/><rect class="bd" x="1932" y="821" width="97" height="24"/><text x="1711" y="838">UPDATOR_DATE</text><text x="1936" y="838">date[7]</text>
<rect class="ft" x="1707" y="845" width="118" height="24"/><rect class="ft" x="1825" y="845" width="107" height="24"/><rect class="ft" x="1932" y="845" width="97" height="24"/>
<text x="1711" y="862">&lt; 8</text><text class="r" x="2025" y="862">0 &gt;</text>
<rect x="1704.5" y="508" width="326.5" height="363" fill="none" stroke-width="3"/>
</g>
<text x="15" y="1913">Generated by SchemaSpy</text>
</svg>
